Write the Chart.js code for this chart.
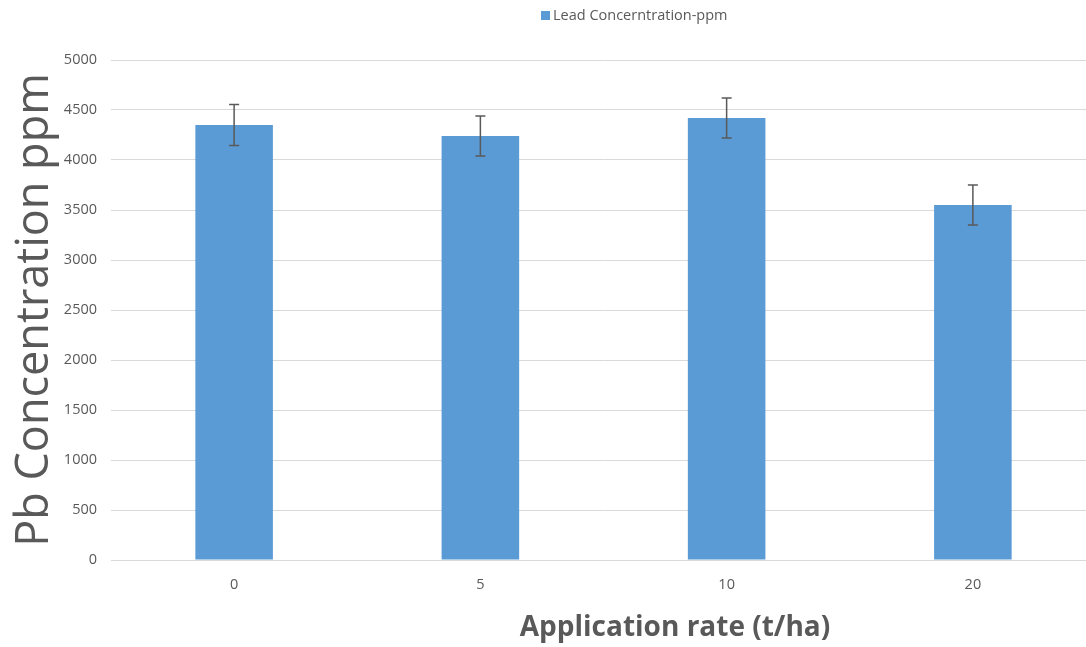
<!DOCTYPE html>
<html>
<head>
<meta charset="utf-8">
<script src="https://cdn.jsdelivr.net/npm/chart.js@4/dist/chart.umd.min.js"></script>
<style>
html,body{margin:0;padding:0;background:#fff;overflow:hidden;}
#wrap{position:relative;width:1096px;height:647px;}
</style>
</head>
<body>
<div id="wrap"><canvas id="c" width="1096" height="647"></canvas></div>
<script>
const categories = ['0', '5', '10', '20'];
const leadValues = [4350, 4240, 4420, 3550];
const leadErrors = [205, 200, 200, 200];
const yTicks = [0, 500, 1000, 1500, 2000, 2500, 3000, 3500, 4000, 4500, 5000];
const seriesLabel = 'Lead Concerntration-ppm';
const xTitle = 'Application rate (t/ha)';
const yTitle = 'Pb Concentration ppm';

const textColor = '#595959';
const barColor = '#5b9bd5';
const fontFamily = "'Open Sans', 'Liberation Sans', sans-serif";

const errorBars = {
  id: 'errorBars',
  afterDatasetsDraw(chart) {
    const ctx = chart.ctx;
    const y = chart.scales.y;
    const meta = chart.getDatasetMeta(0);
    ctx.save();
    ctx.strokeStyle = '#595959';
    ctx.lineWidth = 1.5;
    meta.data.forEach((bar, i) => {
      const v = leadValues[i], e = leadErrors[i];
      const top = y.getPixelForValue(v + e);
      const bot = y.getPixelForValue(v - e);
      const x = bar.x;
      ctx.beginPath();
      ctx.moveTo(x, top); ctx.lineTo(x, bot);
      ctx.moveTo(x - 5, top); ctx.lineTo(x + 5, top);
      ctx.moveTo(x - 5, bot); ctx.lineTo(x + 5, bot);
      ctx.stroke();
    });
    ctx.restore();
  }
};

const extras = {
  id: 'extras',
  afterDraw(chart) {
    const ctx = chart.ctx;
    ctx.save();
    ctx.fillStyle = barColor;
    ctx.fillRect(541, 11, 9, 9);
    ctx.fillStyle = textColor;
    ctx.font = "14.5px " + fontFamily;
    ctx.textBaseline = 'middle';
    ctx.textAlign = 'left';
    ctx.fillText(seriesLabel, 553, 16);
    ctx.font = "bold 28px " + fontFamily;
    ctx.textAlign = 'center';
    ctx.fillText(xTitle, 675, 628);
    ctx.restore();
  }
};

new Chart(document.getElementById('c'), {
  type: 'bar',
  data: {
    labels: categories,
    datasets: [{
      label: seriesLabel,
      data: leadValues,
      backgroundColor: barColor,
      borderWidth: 0,
      barPercentage: 0.315,
      categoryPercentage: 1.0
    }]
  },
  options: {
    responsive: false,
    animation: false,
    devicePixelRatio: 1,
    layout: { padding: { top: 60, left: 0, right: 0, bottom: 0 } },
    plugins: {
      legend: { display: false },
      tooltip: { enabled: false }
    },
    scales: {
      x: {
        grid: { display: false, drawTicks: false },
        border: { color: '#d9d9d9', width: 1 },
        ticks: { color: textColor, font: { family: fontFamily, size: 14.5 }, padding: 16 },
        afterFit(s) { s.height = 87; }
      },
      y: {
        min: 0, max: 5000,
        afterBuildTicks(s) { s.ticks = yTicks.map(v => ({ value: v })); },
        grid: { color: '#d9d9d9', drawTicks: false, lineWidth: 1 },
        border: { display: false },
        ticks: {
          color: textColor, font: { family: fontFamily, size: 14.5 }, padding: 14,
          callback: (v) => String(v)
        },
        title: {
          display: true, text: yTitle, color: textColor,
          font: { family: fontFamily, size: 45 },
          padding: { top: 8, bottom: 0 }
        },
        afterFit(s) { s.width = 111; }
      }
    }
  },
  plugins: [errorBars, extras]
});
</script>
</body>
</html>
